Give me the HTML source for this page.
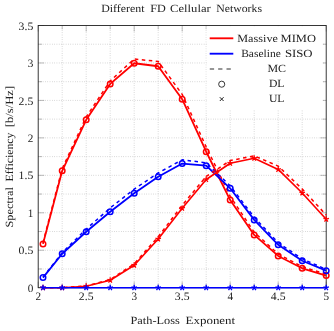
<!DOCTYPE html>
<html><head><meta charset="utf-8"><title>Different FD Cellular Networks</title>
<style>html,body{margin:0;padding:0;background:#fff;}body{width:334px;height:331px;overflow:hidden;font-family:"Liberation Serif",serif;}</style></head>
<body>
<svg width="334" height="331" viewBox="0 0 334 331" style="display:block;will-change:transform;text-rendering:geometricPrecision;font-family:'Liberation Serif',serif">
<rect width="334" height="331" fill="#fff"/>
<path d="M62.20 25.5V287.7M86.20 25.5V287.7M110.20 25.5V287.7M134.20 25.5V287.7M158.20 25.5V287.7M182.20 25.5V287.7M206.20 25.5V287.7M230.20 25.5V287.7M254.20 25.5V287.7M278.20 25.5V287.7M302.20 25.5V287.7M38.2 268.97H326.2M38.2 250.24H326.2M38.2 231.51H326.2M38.2 212.79H326.2M38.2 194.06H326.2M38.2 175.33H326.2M38.2 156.60H326.2M38.2 137.87H326.2M38.2 119.14H326.2M38.2 100.41H326.2M38.2 81.69H326.2M38.2 62.96H326.2M38.2 44.23H326.2" stroke="#a6a6a6" stroke-width="0.65" stroke-dasharray="0.65 1.65" fill="none"/>
<path d="M38.20 287.7v-6.0M38.20 25.5v6.0M62.20 287.7v-3.8M62.20 25.5v3.8M86.20 287.7v-6.0M86.20 25.5v6.0M110.20 287.7v-3.8M110.20 25.5v3.8M134.20 287.7v-6.0M134.20 25.5v6.0M158.20 287.7v-3.8M158.20 25.5v3.8M182.20 287.7v-6.0M182.20 25.5v6.0M206.20 287.7v-3.8M206.20 25.5v3.8M230.20 287.7v-6.0M230.20 25.5v6.0M254.20 287.7v-3.8M254.20 25.5v3.8M278.20 287.7v-6.0M278.20 25.5v6.0M302.20 287.7v-3.8M302.20 25.5v3.8M326.20 287.7v-6.0M326.20 25.5v6.0M38.2 287.70h6.0M326.2 287.70h-6.0M38.2 268.97h3.8M326.2 268.97h-3.8M38.2 250.24h6.0M326.2 250.24h-6.0M38.2 231.51h3.8M326.2 231.51h-3.8M38.2 212.79h6.0M326.2 212.79h-6.0M38.2 194.06h3.8M326.2 194.06h-3.8M38.2 175.33h6.0M326.2 175.33h-6.0M38.2 156.60h3.8M326.2 156.60h-3.8M38.2 137.87h6.0M326.2 137.87h-6.0M38.2 119.14h3.8M326.2 119.14h-3.8M38.2 100.41h6.0M326.2 100.41h-6.0M38.2 81.69h3.8M326.2 81.69h-3.8M38.2 62.96h6.0M326.2 62.96h-6.0M38.2 44.23h3.8M326.2 44.23h-3.8M38.2 25.50h6.0M326.2 25.50h-6.0" stroke="#7a7a7a" stroke-width="0.5" fill="none"/>
<clipPath id="c"><rect x="38.2" y="25.5" width="288.0" height="262.2"/></clipPath>
<rect x="38.2" y="25.5" width="288.0" height="262.2" fill="none" stroke="#222" stroke-width="0.9"/>
<polyline points="43.00,243.88 62.20,170.83 86.20,119.82 110.20,83.93 134.20,63.26 158.20,66.25 182.20,99.22 206.20,151.73 230.20,200.05 254.20,234.89 278.20,255.94 302.20,268.30 326.20,275.56" fill="none" stroke="#ff0000" stroke-width="1.8" stroke-linejoin="round"/>
<circle cx="43.00" cy="243.88" r="2.75" fill="none" stroke="#ff0000" stroke-width="1.5"/><circle cx="62.20" cy="170.83" r="2.75" fill="none" stroke="#ff0000" stroke-width="1.5"/><circle cx="86.20" cy="119.82" r="2.75" fill="none" stroke="#ff0000" stroke-width="1.5"/><circle cx="110.20" cy="83.93" r="2.75" fill="none" stroke="#ff0000" stroke-width="1.5"/><circle cx="134.20" cy="63.26" r="2.75" fill="none" stroke="#ff0000" stroke-width="1.5"/><circle cx="158.20" cy="66.25" r="2.75" fill="none" stroke="#ff0000" stroke-width="1.5"/><circle cx="182.20" cy="99.22" r="2.75" fill="none" stroke="#ff0000" stroke-width="1.5"/><circle cx="206.20" cy="151.73" r="2.75" fill="none" stroke="#ff0000" stroke-width="1.5"/><circle cx="230.20" cy="200.05" r="2.75" fill="none" stroke="#ff0000" stroke-width="1.5"/><circle cx="254.20" cy="234.89" r="2.75" fill="none" stroke="#ff0000" stroke-width="1.5"/><circle cx="278.20" cy="255.94" r="2.75" fill="none" stroke="#ff0000" stroke-width="1.5"/><circle cx="302.20" cy="268.30" r="2.75" fill="none" stroke="#ff0000" stroke-width="1.5"/><circle cx="326.20" cy="275.56" r="2.75" fill="none" stroke="#ff0000" stroke-width="1.5"/>
<polyline points="43.00,242.75 62.20,168.59 86.20,116.90 110.20,80.94 134.20,58.99 158.20,61.46 182.20,94.42 206.20,146.86 230.20,196.30 254.20,232.26 278.20,253.99 302.20,266.72 326.20,274.22" fill="none" stroke="#ff0000" stroke-width="1.5" stroke-linejoin="round" stroke-dasharray="3.5 3.5"/>
<polyline points="43.00,277.59 62.20,253.76 86.20,231.74 110.20,211.81 134.20,193.31 158.20,176.83 182.20,163.57 206.20,165.66 230.20,188.29 254.20,219.90 278.20,244.77 302.20,260.73 326.20,270.69" fill="none" stroke="#0000ff" stroke-width="1.8" stroke-linejoin="round"/>
<circle cx="43.00" cy="277.59" r="2.75" fill="none" stroke="#0000ff" stroke-width="1.5"/><circle cx="62.20" cy="253.76" r="2.75" fill="none" stroke="#0000ff" stroke-width="1.5"/><circle cx="86.20" cy="231.74" r="2.75" fill="none" stroke="#0000ff" stroke-width="1.5"/><circle cx="110.20" cy="211.81" r="2.75" fill="none" stroke="#0000ff" stroke-width="1.5"/><circle cx="134.20" cy="193.31" r="2.75" fill="none" stroke="#0000ff" stroke-width="1.5"/><circle cx="158.20" cy="176.83" r="2.75" fill="none" stroke="#0000ff" stroke-width="1.5"/><circle cx="182.20" cy="163.57" r="2.75" fill="none" stroke="#0000ff" stroke-width="1.5"/><circle cx="206.20" cy="165.66" r="2.75" fill="none" stroke="#0000ff" stroke-width="1.5"/><circle cx="230.20" cy="188.29" r="2.75" fill="none" stroke="#0000ff" stroke-width="1.5"/><circle cx="254.20" cy="219.90" r="2.75" fill="none" stroke="#0000ff" stroke-width="1.5"/><circle cx="278.20" cy="244.77" r="2.75" fill="none" stroke="#0000ff" stroke-width="1.5"/><circle cx="302.20" cy="260.73" r="2.75" fill="none" stroke="#0000ff" stroke-width="1.5"/><circle cx="326.20" cy="270.69" r="2.75" fill="none" stroke="#0000ff" stroke-width="1.5"/>
<polyline points="43.00,277.21 62.20,252.64 86.20,229.12 110.20,207.92 134.20,189.19 158.20,172.93 182.20,159.82 206.20,162.82 230.20,185.82 254.20,217.28 278.20,242.75 302.20,258.86 326.20,269.35" fill="none" stroke="#0000ff" stroke-width="1.5" stroke-linejoin="round" stroke-dasharray="3.5 3.5"/>
<polyline points="43.00,287.70 62.20,287.70 86.20,286.20 110.20,280.21 134.20,265.23 158.20,239.01 182.20,208.29 206.20,179.52 230.20,163.27 254.20,158.25 278.20,169.41 302.20,193.01 326.20,219.23" fill="none" stroke="#ff0000" stroke-width="1.65" stroke-linejoin="round"/>
<path d="M43.00 287.70L43.00 284.80M43.00 287.70L40.24 286.80M43.00 287.70L41.30 290.05M43.00 287.70L44.70 290.05M43.00 287.70L45.76 286.80" stroke="#ff0000" stroke-width="1.3" fill="none"/><path d="M62.20 287.70L62.20 284.80M62.20 287.70L59.44 286.80M62.20 287.70L60.50 290.05M62.20 287.70L63.90 290.05M62.20 287.70L64.96 286.80" stroke="#ff0000" stroke-width="1.3" fill="none"/><path d="M86.20 286.20L86.20 283.30M86.20 286.20L83.44 285.31M86.20 286.20L84.50 288.55M86.20 286.20L87.90 288.55M86.20 286.20L88.96 285.31" stroke="#ff0000" stroke-width="1.3" fill="none"/><path d="M110.20 280.21L110.20 277.31M110.20 280.21L107.44 279.31M110.20 280.21L108.50 282.55M110.20 280.21L111.90 282.55M110.20 280.21L112.96 279.31" stroke="#ff0000" stroke-width="1.3" fill="none"/><path d="M134.20 265.23L134.20 262.33M134.20 265.23L131.44 264.33M134.20 265.23L132.50 267.57M134.20 265.23L135.90 267.57M134.20 265.23L136.96 264.33" stroke="#ff0000" stroke-width="1.3" fill="none"/><path d="M158.20 239.01L158.20 236.11M158.20 239.01L155.44 238.11M158.20 239.01L156.50 241.35M158.20 239.01L159.90 241.35M158.20 239.01L160.96 238.11" stroke="#ff0000" stroke-width="1.3" fill="none"/><path d="M182.20 208.29L182.20 205.39M182.20 208.29L179.44 207.39M182.20 208.29L180.50 210.64M182.20 208.29L183.90 210.64M182.20 208.29L184.96 207.39" stroke="#ff0000" stroke-width="1.3" fill="none"/><path d="M206.20 179.52L206.20 176.62M206.20 179.52L203.44 178.63M206.20 179.52L204.50 181.87M206.20 179.52L207.90 181.87M206.20 179.52L208.96 178.63" stroke="#ff0000" stroke-width="1.3" fill="none"/><path d="M230.20 163.27L230.20 160.37M230.20 163.27L227.44 162.37M230.20 163.27L228.50 165.61M230.20 163.27L231.90 165.61M230.20 163.27L232.96 162.37" stroke="#ff0000" stroke-width="1.3" fill="none"/><path d="M254.20 158.25L254.20 155.35M254.20 158.25L251.44 157.35M254.20 158.25L252.50 160.59M254.20 158.25L255.90 160.59M254.20 158.25L256.96 157.35" stroke="#ff0000" stroke-width="1.3" fill="none"/><path d="M278.20 169.41L278.20 166.51M278.20 169.41L275.44 168.51M278.20 169.41L276.50 171.76M278.20 169.41L279.90 171.76M278.20 169.41L280.96 168.51" stroke="#ff0000" stroke-width="1.3" fill="none"/><path d="M302.20 193.01L302.20 190.11M302.20 193.01L299.44 192.11M302.20 193.01L300.50 195.35M302.20 193.01L303.90 195.35M302.20 193.01L304.96 192.11" stroke="#ff0000" stroke-width="1.3" fill="none"/><path d="M326.20 219.23L326.20 216.33M326.20 219.23L323.44 218.33M326.20 219.23L324.50 221.57M326.20 219.23L327.90 221.57M326.20 219.23L328.96 218.33" stroke="#ff0000" stroke-width="1.3" fill="none"/>
<polyline points="43.00,287.70 62.20,287.70 86.20,286.05 110.20,279.61 134.20,263.88 158.20,236.76 182.20,205.29 206.20,176.45 230.20,160.57 254.20,155.85 278.20,166.11 302.20,188.96 326.20,215.03" fill="none" stroke="#ff0000" stroke-width="1.55" stroke-linejoin="round" stroke-dasharray="3.5 3.5"/>
<polyline points="43.00,287.70 62.20,287.70 86.20,287.70 110.20,287.70 134.20,287.70 158.20,287.70 182.20,287.70 206.20,287.70 230.20,287.70 254.20,287.70 278.20,287.70 302.20,287.70 326.20,287.70" fill="none" stroke="#0000ff" stroke-width="1.4" stroke-linejoin="round"/>
<path d="M43.00 287.70L43.00 284.80M43.00 287.70L40.24 286.80M43.00 287.70L41.30 290.05M43.00 287.70L44.70 290.05M43.00 287.70L45.76 286.80" stroke="#0000ff" stroke-width="1.3" fill="none"/><path d="M62.20 287.70L62.20 284.80M62.20 287.70L59.44 286.80M62.20 287.70L60.50 290.05M62.20 287.70L63.90 290.05M62.20 287.70L64.96 286.80" stroke="#0000ff" stroke-width="1.3" fill="none"/><path d="M86.20 287.70L86.20 284.80M86.20 287.70L83.44 286.80M86.20 287.70L84.50 290.05M86.20 287.70L87.90 290.05M86.20 287.70L88.96 286.80" stroke="#0000ff" stroke-width="1.3" fill="none"/><path d="M110.20 287.70L110.20 284.80M110.20 287.70L107.44 286.80M110.20 287.70L108.50 290.05M110.20 287.70L111.90 290.05M110.20 287.70L112.96 286.80" stroke="#0000ff" stroke-width="1.3" fill="none"/><path d="M134.20 287.70L134.20 284.80M134.20 287.70L131.44 286.80M134.20 287.70L132.50 290.05M134.20 287.70L135.90 290.05M134.20 287.70L136.96 286.80" stroke="#0000ff" stroke-width="1.3" fill="none"/><path d="M158.20 287.70L158.20 284.80M158.20 287.70L155.44 286.80M158.20 287.70L156.50 290.05M158.20 287.70L159.90 290.05M158.20 287.70L160.96 286.80" stroke="#0000ff" stroke-width="1.3" fill="none"/><path d="M182.20 287.70L182.20 284.80M182.20 287.70L179.44 286.80M182.20 287.70L180.50 290.05M182.20 287.70L183.90 290.05M182.20 287.70L184.96 286.80" stroke="#0000ff" stroke-width="1.3" fill="none"/><path d="M206.20 287.70L206.20 284.80M206.20 287.70L203.44 286.80M206.20 287.70L204.50 290.05M206.20 287.70L207.90 290.05M206.20 287.70L208.96 286.80" stroke="#0000ff" stroke-width="1.3" fill="none"/><path d="M230.20 287.70L230.20 284.80M230.20 287.70L227.44 286.80M230.20 287.70L228.50 290.05M230.20 287.70L231.90 290.05M230.20 287.70L232.96 286.80" stroke="#0000ff" stroke-width="1.3" fill="none"/><path d="M254.20 287.70L254.20 284.80M254.20 287.70L251.44 286.80M254.20 287.70L252.50 290.05M254.20 287.70L255.90 290.05M254.20 287.70L256.96 286.80" stroke="#0000ff" stroke-width="1.3" fill="none"/><path d="M278.20 287.70L278.20 284.80M278.20 287.70L275.44 286.80M278.20 287.70L276.50 290.05M278.20 287.70L279.90 290.05M278.20 287.70L280.96 286.80" stroke="#0000ff" stroke-width="1.3" fill="none"/><path d="M302.20 287.70L302.20 284.80M302.20 287.70L299.44 286.80M302.20 287.70L300.50 290.05M302.20 287.70L303.90 290.05M302.20 287.70L304.96 286.80" stroke="#0000ff" stroke-width="1.3" fill="none"/><path d="M326.20 287.70L326.20 284.80M326.20 287.70L323.44 286.80M326.20 287.70L324.50 290.05M326.20 287.70L327.90 290.05M326.20 287.70L328.96 286.80" stroke="#0000ff" stroke-width="1.3" fill="none"/>
<rect x="206.6" y="26.1" width="116.2" height="83.9" fill="#fff"/>
<path d="M209.7 38.3H233.3" stroke="#ff0000" stroke-width="1.85"/>
<path d="M209.7 53.7H233.3" stroke="#0000ff" stroke-width="1.85"/>
<path d="M209.8 69H233.3" stroke="#222" stroke-width="0.95" stroke-dasharray="4.3 4.05"/>
<circle cx="221.7" cy="84.2" r="3.05" fill="none" stroke="#222" stroke-width="0.9"/>
<path d="M219.8 97.2L223.6 101M219.8 101L223.6 97.2" stroke="#222" stroke-width="1"/>
<text x="237.3" y="41.6" font-size="11" fill="#222" textLength="40.6" lengthAdjust="spacingAndGlyphs">Massive</text>
<text x="280.6" y="41.6" font-size="11" fill="#222" textLength="35.4" lengthAdjust="spacingAndGlyphs">MIMO</text>
<text x="241.2" y="56.8" font-size="11" fill="#222" textLength="39.6" lengthAdjust="spacingAndGlyphs">Baseline</text>
<text x="284.9" y="56.8" font-size="11" fill="#222" textLength="27.7" lengthAdjust="spacingAndGlyphs">SISO</text>
<text x="276.7" y="72.0" font-size="11" text-anchor="middle" fill="#222" textLength="18.6" lengthAdjust="spacingAndGlyphs">MC</text>
<text x="276.7" y="87.2" font-size="11" text-anchor="middle" fill="#222" textLength="15.6" lengthAdjust="spacingAndGlyphs">DL</text>
<text x="276.7" y="102.4" font-size="11" text-anchor="middle" fill="#222" textLength="15.6" lengthAdjust="spacingAndGlyphs">UL</text>
<text x="101.2" y="12.1" font-size="11" fill="#222" textLength="43.4" lengthAdjust="spacingAndGlyphs">Different</text>
<text x="150.2" y="12.1" font-size="11" fill="#222" textLength="15.6" lengthAdjust="spacingAndGlyphs">FD</text>
<text x="170.1" y="12.1" font-size="11" fill="#222" textLength="40.6" lengthAdjust="spacingAndGlyphs">Cellular</text>
<text x="216.2" y="12.1" font-size="11" fill="#222" textLength="45.8" lengthAdjust="spacingAndGlyphs">Networks</text>
<text x="130.5" y="324.4" font-size="11" fill="#222" textLength="49.3" lengthAdjust="spacingAndGlyphs">Path-Loss</text>
<text x="185.6" y="324.4" font-size="11" fill="#222" textLength="49.6" lengthAdjust="spacingAndGlyphs">Exponent</text>
<text transform="translate(13.4,227.5) rotate(-90)" font-size="11" fill="#222" textLength="40.3" lengthAdjust="spacingAndGlyphs">Spectral</text>
<text transform="translate(13.4,181.5) rotate(-90)" font-size="11" fill="#222" textLength="49.0" lengthAdjust="spacingAndGlyphs">Efficiency</text>
<text transform="translate(13.4,127.3) rotate(-90)" font-size="11" fill="#222" textLength="41.5" lengthAdjust="spacingAndGlyphs">[b/s/Hz]</text>
<text x="38.20" y="300" font-size="11.3" text-anchor="middle" fill="#222" textLength="5.6" lengthAdjust="spacingAndGlyphs">2</text>
<text x="86.20" y="300" font-size="11.3" text-anchor="middle" fill="#222" textLength="14.7" lengthAdjust="spacingAndGlyphs">2.5</text>
<text x="134.20" y="300" font-size="11.3" text-anchor="middle" fill="#222" textLength="5.6" lengthAdjust="spacingAndGlyphs">3</text>
<text x="182.20" y="300" font-size="11.3" text-anchor="middle" fill="#222" textLength="14.7" lengthAdjust="spacingAndGlyphs">3.5</text>
<text x="230.20" y="300" font-size="11.3" text-anchor="middle" fill="#222" textLength="5.6" lengthAdjust="spacingAndGlyphs">4</text>
<text x="278.20" y="300" font-size="11.3" text-anchor="middle" fill="#222" textLength="14.7" lengthAdjust="spacingAndGlyphs">4.5</text>
<text x="326.20" y="300" font-size="11.3" text-anchor="middle" fill="#222" textLength="5.6" lengthAdjust="spacingAndGlyphs">5</text>
<text x="33.3" y="291.80" font-size="11.3" text-anchor="end" fill="#222" textLength="5.6" lengthAdjust="spacingAndGlyphs">0</text>
<text x="33.3" y="254.34" font-size="11.3" text-anchor="end" fill="#222" textLength="14.7" lengthAdjust="spacingAndGlyphs">0.5</text>
<text x="33.3" y="216.89" font-size="11.3" text-anchor="end" fill="#222" textLength="5.6" lengthAdjust="spacingAndGlyphs">1</text>
<text x="33.3" y="179.43" font-size="11.3" text-anchor="end" fill="#222" textLength="14.7" lengthAdjust="spacingAndGlyphs">1.5</text>
<text x="33.3" y="141.97" font-size="11.3" text-anchor="end" fill="#222" textLength="5.6" lengthAdjust="spacingAndGlyphs">2</text>
<text x="33.3" y="104.51" font-size="11.3" text-anchor="end" fill="#222" textLength="14.7" lengthAdjust="spacingAndGlyphs">2.5</text>
<text x="33.3" y="67.06" font-size="11.3" text-anchor="end" fill="#222" textLength="5.6" lengthAdjust="spacingAndGlyphs">3</text>
<text x="33.3" y="29.60" font-size="11.3" text-anchor="end" fill="#222" textLength="14.7" lengthAdjust="spacingAndGlyphs">3.5</text>
</svg>
</body></html>
